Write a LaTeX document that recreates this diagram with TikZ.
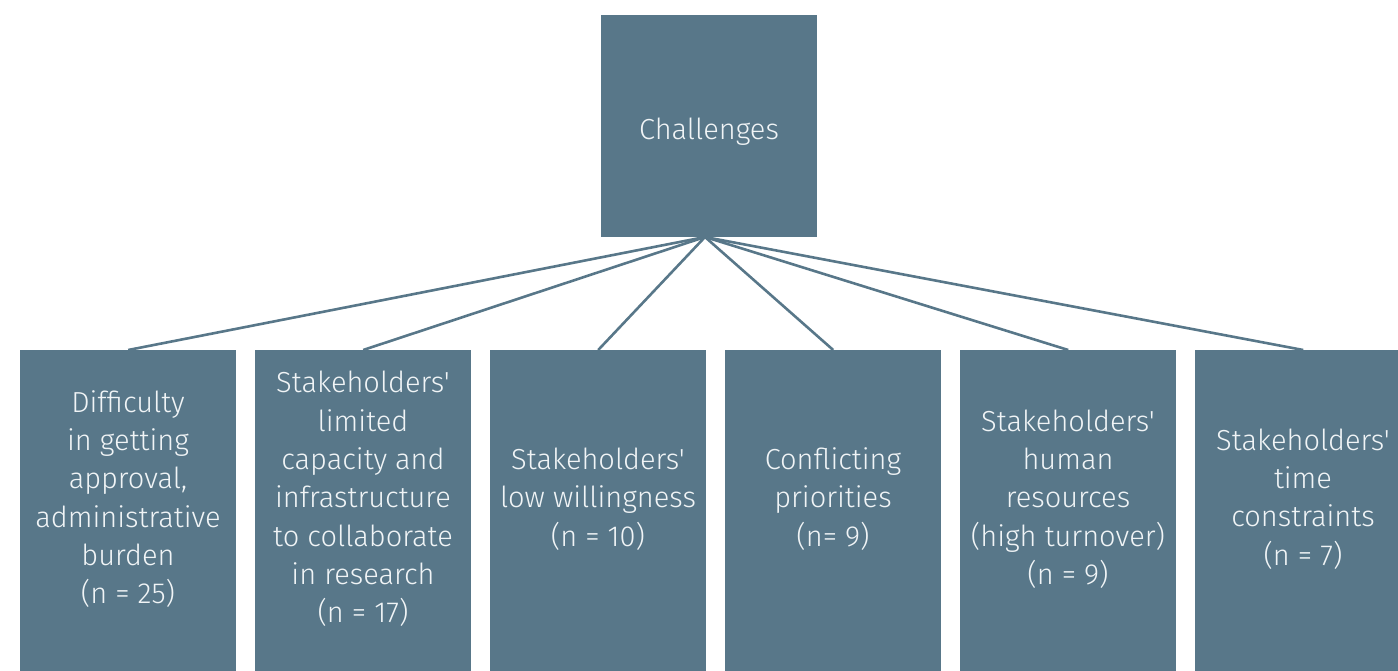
\documentclass[tikz,border=0pt]{standalone}
\usepackage{fontspec}
% plain family, so straight apostrophes stay straight
\newfontfamily\cardfont{Fira Sans}[UprightFont=* Light]
\definecolor{boxfill}{HTML}{587789}
\definecolor{boxtext}{HTML}{F0F4F6}
\begin{document}
\begin{tikzpicture}[x=1pt,y=-1pt,
  card/.style={fill=boxfill, draw=none, minimum width=216pt, inner sep=0pt},
  label/.style={text=boxtext, align=center, font=\cardfont\fontsize{29}{38.3}\selectfont},
  link/.style={draw=boxfill, line width=2.6pt}]
  \useasboundingbox (0,0) rectangle (1398,671);
  \clip (0,0) rectangle (1398,671);
  % root box
  \node[card, minimum height=222pt, anchor=north west] (root) at (601,15) {};
  \node[label] (roottxt) at (709,132) {Challenges};
  \coordinate (apex) at (705,237);
  % child boxes
  \foreach \i/\x in {1/20,2/255,3/490,4/725,5/960,6/1195}{
    \node[card, minimum height=330pt, anchor=north west] (c\i) at (\x,350) {};
  }
  \node[label] (t1) at (128,499) {Difficulty\\in getting\\approval,\\administrative\\burden\\(n = 25)};
  \node[label] (t2) at (363,499) {Stakeholders'\\limited\\capacity and\\infrastructure\\to collaborate\\in research\\(n = 17)};
  \node[label] (t3) at (598,499) {Stakeholders'\\low willingness\\(n = 10)};
  \node[label] (t4) at (833,499) {Conflicting\\priorities\\(n= 9)};
  \node[label] (t5) at (1068,499) {Stakeholders'\\human\\resources\\(high turnover)\\(n = 9)};
  \node[label] (t6) at (1303,499) {Stakeholders'\\time\\constraints\\(n = 7)};
  % connectors
  \foreach \i in {1,...,6}{
    \draw[link] (apex) -- (c\i.north);
  }
\end{tikzpicture}
\end{document}
